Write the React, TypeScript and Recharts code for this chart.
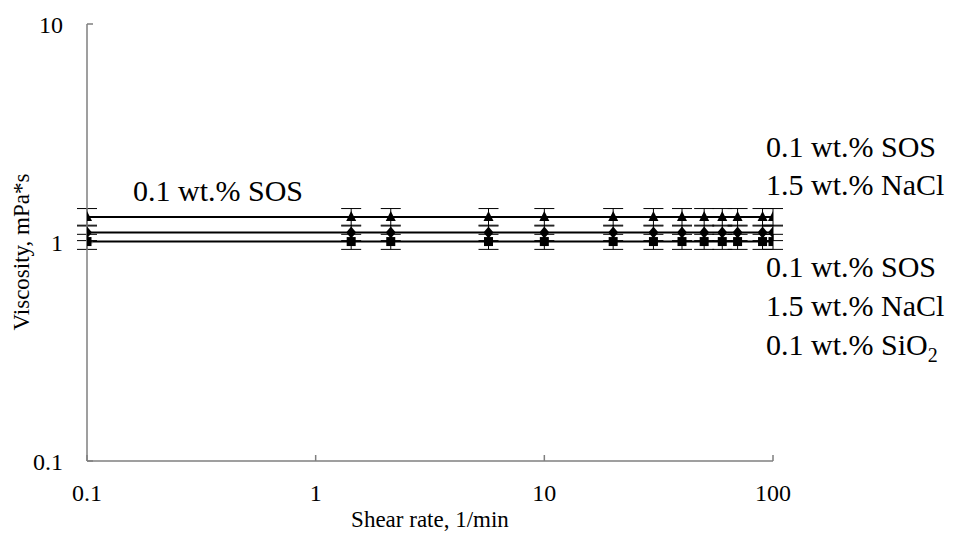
import React from 'react';
import { LineChart, Line, XAxis, YAxis, ErrorBar, Customized } from 'recharts';

// shear rate, 1/min
const shearRates = [0.1, 1.43, 2.13, 5.7, 10, 20, 30, 40, 50, 60, 70, 90, 100];

// viscosity, mPa*s
const viscSos = [1.31, 1.31, 1.31, 1.31, 1.31, 1.31, 1.31, 1.31, 1.31, 1.31, 1.31, 1.31, 1.31];
const viscSosNacl = [1.11, 1.11, 1.11, 1.11, 1.11, 1.11, 1.11, 1.11, 1.11, 1.11, 1.11, 1.11, 1.11];
const viscSosNaclSio2 = [1.01, 1.01, 1.01, 1.01, 1.01, 1.01, 1.01, 1.01, 1.01, 1.01, 1.01, 1.01, 1.01];

// error bars
const errSos = [0.12, 0.12, 0.12, 0.12, 0.12, 0.12, 0.12, 0.12, 0.12, 0.12, 0.12, 0.12, 0.12];
const errSosNacl = [0.09, 0.09, 0.09, 0.09, 0.09, 0.09, 0.09, 0.09, 0.09, 0.09, 0.09, 0.09, 0.09];
const errSosNaclSio2 = [0.08, 0.08, 0.08, 0.08, 0.08, 0.08, 0.08, 0.08, 0.08, 0.08, 0.08, 0.08, 0.08];

const xTicks = [0.1, 1, 10, 100];
const yTicks = [0.1, 1, 10];

const data = shearRates.map((x, i) => ({
  x,
  sos: viscSos[i],
  sosErr: errSos[i],
  nacl: viscSosNacl[i],
  naclErr: errSosNacl[i],
  sio2: viscSosNaclSio2[i],
  sio2Err: errSosNaclSio2[i],
}));

const FONT = 'Liberation Serif, Times New Roman, serif';
const AXIS_GREY = '#7f7f7f';

const Triangle = (props: any) => {
  const { cx, cy, index } = props;
  if (cx == null || cy == null) return null;
  return <polygon key={`t-${index}`} points={`${cx},${cy - 6} ${cx - 5},${cy + 4} ${cx + 5},${cy + 4}`} fill="#000" />;
};

const Diamond = (props: any) => {
  const { cx, cy, index } = props;
  if (cx == null || cy == null) return null;
  return <polygon key={`d-${index}`} points={`${cx},${cy - 6} ${cx + 5},${cy} ${cx},${cy + 6} ${cx - 5},${cy}`} fill="#000" />;
};

const Square = (props: any) => {
  const { cx, cy, index } = props;
  if (cx == null || cy == null) return null;
  return <rect key={`s-${index}`} x={cx - 4.5} y={cy - 4.5} width={9} height={9} fill="#000" />;
};

const fmt = (v: number) => (v < 1 ? v.toFixed(1) : String(v));

const Annotations = () => (
  <g style={{ fontFamily: FONT }} fill="#000">
    <text x={133} y={201} fontSize={30}>0.1 wt.% SOS</text>
    <text x={766} y={157} fontSize={30}>0.1 wt.% SOS</text>
    <text x={766} y={195} fontSize={30}>1.5 wt.% NaCl</text>
    <text x={766} y={277} fontSize={30}>0.1 wt.% SOS</text>
    <text x={766} y={316} fontSize={30}>1.5 wt.% NaCl</text>
    <text x={766} y={355} fontSize={30}>
      0.1 wt.% SiO<tspan fontSize={20} dy={7}>2</tspan>
    </text>
    <text
      x={21}
      y={252}
      fontSize={23}
      textAnchor="middle"
      dominantBaseline="central"
      transform="rotate(-90, 21, 252)"
    >
      Viscosity, mPa*s
    </text>
    <text x={430} y={527} fontSize={23} textAnchor="middle">Shear rate, 1/min</text>
  </g>
);

export default function App() {
  return (
    <div style={{ position: 'absolute', left: 0, top: 0, width: 956, height: 533, background: '#fff', fontFamily: FONT }}>
      <LineChart
        width={956}
        height={533}
        data={data}
        margin={{ top: 24, right: 183, bottom: 0, left: 0 }}
        style={{ fontFamily: FONT }}
      >
        <XAxis
          dataKey="x"
          type="number"
          scale="log"
          domain={[0.1, 100]}
          ticks={xTicks}
          tickFormatter={fmt}
          allowDataOverflow
          height={72}
          axisLine={{ stroke: AXIS_GREY, strokeWidth: 1.5 }}
          tickLine={{ stroke: AXIS_GREY, strokeWidth: 1.5 }}
          tickSize={-6}
          tickMargin={29}
          tick={{ fill: '#000', fontSize: 24, style: { fontFamily: FONT } }}
        />
        <YAxis
          type="number"
          scale="log"
          domain={[0.1, 10]}
          ticks={yTicks}
          tickFormatter={fmt}
          allowDataOverflow
          width={87}
          axisLine={{ stroke: AXIS_GREY, strokeWidth: 1.5 }}
          tickLine={{ stroke: AXIS_GREY, strokeWidth: 1.5 }}
          tickSize={-6}
          tickMargin={30}
          tick={{ fill: '#000', fontSize: 24, style: { fontFamily: FONT } }}
        />
        <Line dataKey="sio2" stroke="#000" strokeWidth={2} dot={Square} isAnimationActive={false}>
          <ErrorBar dataKey="sio2Err" direction="y" width={10} stroke="#000" strokeWidth={1} />
        </Line>
        <Line dataKey="nacl" stroke="#000" strokeWidth={2} dot={Diamond} isAnimationActive={false}>
          <ErrorBar dataKey="naclErr" direction="y" width={10} stroke="#000" strokeWidth={1} />
        </Line>
        <Line dataKey="sos" stroke="#000" strokeWidth={2} dot={Triangle} isAnimationActive={false}>
          <ErrorBar dataKey="sosErr" direction="y" width={10} stroke="#000" strokeWidth={1} />
        </Line>
        <Customized component={Annotations} />
      </LineChart>
    </div>
  );
}
